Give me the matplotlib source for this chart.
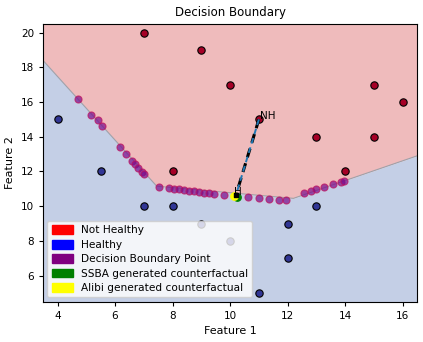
import numpy as np
import matplotlib
matplotlib.use("Agg")
import matplotlib.pyplot as plt
from matplotlib.patches import Patch

# Data points
unhealthy_x = [7, 9, 10, 11, 8, 13, 14, 15, 16, 15]
unhealthy_y = [20, 19, 17, 15, 12, 14, 12, 17, 16, 14]
healthy_x = [4, 5.5, 7, 8, 12, 13, 12, 11, 9, 10]
healthy_y = [15, 12, 10, 10, 9, 10, 7, 5, 9, 8]

# Decision boundary polyline (vertices)
boundary_x = [3.5, 7.45, 12.2, 16.5]
boundary_y = [18.39, 11.15, 10.45, 12.9]

# Decision boundary points
db_x = [4.70, 5.18, 5.39, 5.53, 6.16, 6.37, 6.58, 6.68, 6.79, 6.93, 7.00,
        7.52, 7.87, 8.05, 8.22, 8.39, 8.56, 8.74, 8.91, 9.09, 9.26, 9.43, 9.78,
        10.62, 11.0, 11.35, 11.7, 11.94,
        12.57, 12.8, 13.0, 13.27, 13.58, 13.86, 13.97]
db_y = [16.15, 15.23, 14.94, 14.62, 13.42, 13.03, 12.63, 12.42, 12.20, 11.95, 11.85,
        11.09, 11.03, 11.01, 10.98, 10.93, 10.88, 10.85, 10.80, 10.76, 10.74, 10.69, 10.63,
        10.52, 10.46, 10.40, 10.36, 10.34,
        10.78, 10.88, 10.98, 11.13, 11.30, 11.38, 11.44]

# Counterfactual
orig_pt = (11, 15)
cf_pt = (10.2, 10.62)
alibi_pt = (10.13, 10.57)
ssba_pt = (10.25, 10.55)

fig = plt.figure(figsize=(4.23, 3.42), dpi=100)
ax = fig.add_axes([0.102, 0.118, 0.884, 0.812])

xlim = (3.5, 16.5)
ylim = (4.5, 20.5)
xs = np.array(boundary_x)
ys = np.array(boundary_y)
ax.fill_between(xs, ys, ylim[1], color='#efbbbc', lw=0, zorder=0)
ax.fill_between(xs, ylim[0], ys, color='#c4cfe6', lw=0, zorder=0)
ax.plot(xs, ys, color='#a0a0a8', lw=0.8, zorder=1)

ax.scatter(unhealthy_x, unhealthy_y, c='#a50026', edgecolors='k', s=28, linewidths=0.8, zorder=3)
ax.scatter(healthy_x, healthy_y, c='#313695', edgecolors='k', s=28, linewidths=0.8, zorder=3)

ax.scatter(db_x, db_y, c='#7a0a8a', edgecolors='#c0105a', s=26, linewidths=0.8, alpha=0.7, zorder=4)

ax.plot([orig_pt[0], cf_pt[0]], [orig_pt[1], cf_pt[1]], color='k', ls=(0, (3, 2)), lw=2.2, zorder=5)
ax.plot([orig_pt[0], cf_pt[0]], [orig_pt[1], cf_pt[1]], color='#1f77b4', ls=(0, (3, 2)), lw=1.4, zorder=6)
ax.scatter([ssba_pt[0]], [ssba_pt[1]], c='green', s=28, zorder=6)
ax.scatter([alibi_pt[0]], [alibi_pt[1]], c='yellow', s=28, zorder=7)
ax.scatter([cf_pt[0]], [cf_pt[1]], c='k', marker='s', s=12, zorder=7)
ax.text(orig_pt[0] + 0.05, orig_pt[1] + 0.02, 'NH', fontsize=7.5, zorder=8)
ax.text(cf_pt[0] - 0.05, cf_pt[1] + 0.02, 'H', fontsize=7.5, zorder=8)

ax.set_xlim(*xlim)
ax.set_ylim(*ylim)
ax.set_xticks([4, 6, 8, 10, 12, 14, 16])
ax.set_yticks([6, 8, 10, 12, 14, 16, 18, 20])
ax.tick_params(labelsize=7.5, length=3)
ax.set_xlabel('Feature 1', fontsize=8)
ax.set_ylabel('Feature 2', fontsize=8)
ax.set_title('Decision Boundary', fontsize=8.5)

handles = [Patch(color='red', label='Not Healthy'),
           Patch(color='blue', label='Healthy'),
           Patch(color='purple', label='Decision Boundary Point'),
           Patch(color='green', label='SSBA generated counterfactual'),
           Patch(color='yellow', label='Alibi generated counterfactual')]
ax.legend(handles=handles, loc='lower left', fontsize=7.6, framealpha=0.8,
          handlelength=2.0, handleheight=0.9, borderaxespad=0.4, labelspacing=0.42)

fig.savefig('out.png', dpi=100)
